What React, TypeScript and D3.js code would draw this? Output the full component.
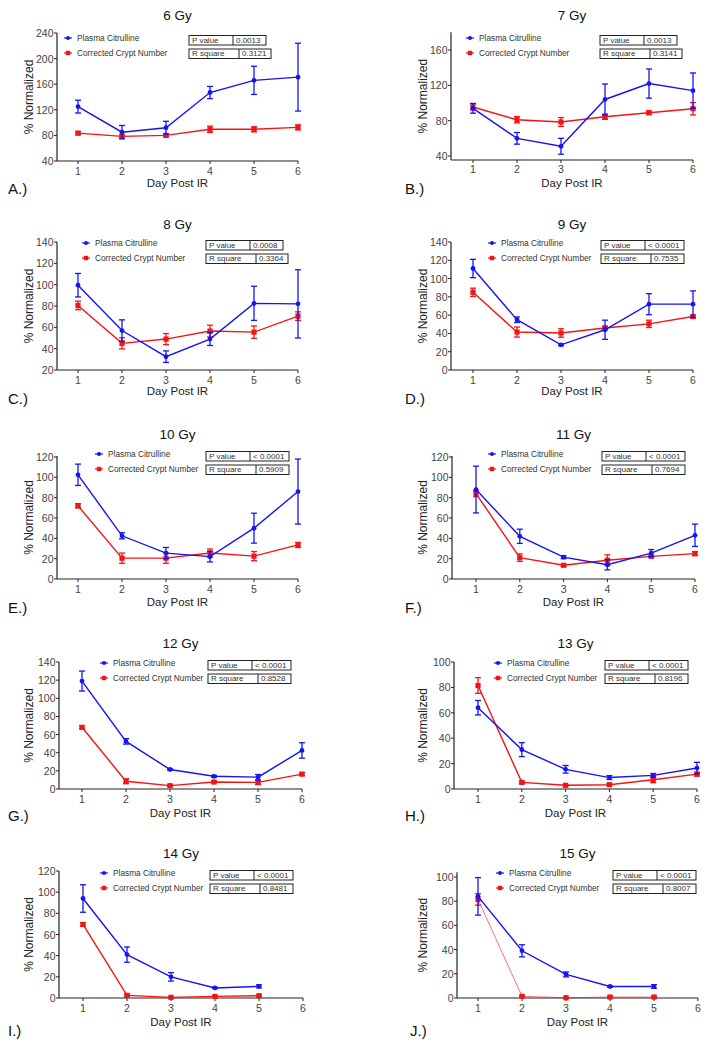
import React from 'react';
import * as d3 from 'd3';

// ---- data ----
const doses = ['6 Gy', '7 Gy', '8 Gy', '9 Gy', '10 Gy', '11 Gy', '12 Gy', '13 Gy', '14 Gy', '15 Gy'];
const panelLetters = ['A.)', 'B.)', 'C.)', 'D.)', 'E.)', 'F.)', 'G.)', 'H.)', 'I.)', 'J.)'];
const pValues = ['0.0013', '0.0013', '0.0008', '< 0.0001', '< 0.0001', '< 0.0001', '< 0.0001', '< 0.0001', '< 0.0001', '< 0.0001'];
const rSquares = ['0.3121', '0.3141', '0.3364', '0.7535', '0.5909', '0.7694', '0.8528', '0.8196', '0.8481', '0.8007'];
const dayTicks = [1, 2, 3, 4, 5, 6];

const yTicks = [
  [40, 80, 120, 160, 200, 240],
  [40, 80, 120, 160],
  [20, 40, 60, 80, 100, 120, 140],
  [0, 20, 40, 60, 80, 100, 120, 140],
  [0, 20, 40, 60, 80, 100, 120],
  [0, 20, 40, 60, 80, 100, 120],
  [0, 20, 40, 60, 80, 100, 120, 140],
  [0, 20, 40, 60, 80, 100],
  [0, 20, 40, 60, 80, 100, 120],
  [0, 20, 40, 60, 80, 100],
];

const citrullineMean = [
  [125, 85, 92, 147, 166, 171],
  [94, 60, 51, 104, 122, 114],
  [99.5, 57, 32.5, 49, 82.5, 82],
  [111, 55, 27.5, 44, 72, 72],
  [102.5, 42.5, 25.5, 22, 50, 86],
  [88, 42, 21.5, 14, 25.5, 43],
  [119, 52.5, 21.5, 14, 13, 42.5],
  [64, 31, 15.5, 9, 10.7, 16.5],
  [94, 41, 20, 9.5, 11],
  [84, 39, 19.5, 9.5, 9.5],
];
const citrullineSem = [
  [10, 10.5, 10, 9.5, 22, 53],
  [5.5, 6.6, 9, 17.5, 16.5, 20],
  [11, 10, 5.4, 6, 16, 32],
  [10, 3, 1, 10.5, 11.5, 14.5],
  [10.5, 3, 5.5, 5.2, 14.7, 32],
  [23, 7, 1.5, 5, 3.5, 11],
  [11, 3, 0.8, 1, 3, 8.5],
  [5.7, 5.5, 3, 1.5, 1.5, 4.5],
  [13, 7.2, 4, 0.6, 1.5],
  [15.5, 5, 2, 0.6, 1.5],
];
const cryptMean = [
  [83.5, 78.5, 80, 89.5, 89.5, 92.5],
  [95.5, 81, 78.5, 84.5, 89, 93.5],
  [80.5, 45, 49, 56.5, 55.5, 70.5],
  [85, 41.5, 40.5, 46, 50.5, 58.5],
  [72, 20.5, 20.5, 25.5, 22.5, 33.5],
  [84, 21, 13.5, 18.5, 22.3, 25],
  [68, 8.5, 3.7, 7.7, 7.3, 16.4],
  [81.5, 5.2, 2.9, 3.4, 7.3, 11.7],
  [69.5, 2.5, 0.6, 1.5, 2.2],
  [81.5, 1.4, 0.2, 0.8, 0.8],
];
const cryptSem = [
  [2.5, 2.5, 2.5, 5, 4, 4],
  [3.5, 3.5, 5, 3, 2, 7],
  [4, 5.2, 5.2, 5.5, 5.8, 4],
  [4.5, 5.5, 4.6, 2, 4, 1.5],
  [2, 5, 5, 4, 4.5, 2.5],
  [3, 3.7, 1, 5.3, 1, 2],
  [1.5, 2.7, 1, 1, 2.4, 1.5],
  [6.2, 1, 0.5, 0.8, 2.3, 1.5],
  [1.5, 1, 0.3, 0.5, 0.5],
  [4.8, 0.5, 0.2, 0.4, 0.4],
];

// ---- layout (pixels) ----
// axisX, x of day 1, x of day 6, px of top tick, px of bottom tick, axis top value, axis bottom value, legend x, legend y, box x
const layout = [
  [57, 78, 298, 33, 161, 240, 40, 68, 38, 189],
  [451, 473, 693, 50, 156, 180, 35.5, 470, 38, 600],
  [57, 78, 298, 242, 370, 140, 20, 86, 243, 206],
  [451, 473, 693, 242, 370, 140, 0, 492, 243, 601],
  [57, 78, 298, 457, 579, 121, 0, 99, 454, 206],
  [452, 476, 695, 457, 579, 121, 0, 492, 454, 602],
  [59, 82, 302, 662, 789, 140, 0, 104, 663, 208],
  [454, 478, 697, 662, 789, 100, 0, 498, 663, 605],
  [59, 83, 303, 871, 998, 120, 0, 104, 873, 210],
  [457, 478, 698, 877, 998, 104, 0, 500, 873, 613],
];
const rowTitleY = [15, 224, 434, 643, 853];
const rowXLabelY = [183, 391, 602, 813, 1022];
const rowLetterY = [188, 398, 607, 815, 1030];

const FONT = '"Liberation Sans", Arial, Helvetica, sans-serif';
const BLUE = '#1414f5';
const RED = '#f51414';

function Panel({ i }: { i: number }) {
  const [axisX, x1, x6, topPx, botPx, axTop, axBot, legX, legY, boxX] = layout[i];
  const ticks = yTicks[i];
  const row = Math.floor(i / 2);
  const col = i % 2;

  const x = d3.scaleLinear().domain([1, 6]).range([x1, x6]);
  const y = d3.scaleLinear().domain([ticks[0], ticks[ticks.length - 1]]).range([botPx, topPx]);
  const yAxTop = y(axTop);
  const yAxBot = y(axBot);
  const cx = (axisX + x6) / 2;

  const line = d3.line<number>().x((_, k) => x(k + 1)).y((d) => y(d));

  const wide = pValues[i].startsWith('<');
  const pW = wide ? 83 : 77;
  const rW = wide ? 83 : 82;
  const boxH = 9.5;
  const pY = legY - 2.5;
  const rY = legY + 11;

  const series = [
    { mean: cryptMean[i], sem: cryptSem[i], color: RED, sq: true },
    { mean: citrullineMean[i], sem: citrullineSem[i], color: BLUE, sq: false },
  ];

  return (
    <g>
      <text x={cx} y={rowTitleY[row]} textAnchor="middle" dominantBaseline="central" fontSize={13.5} fill="#111">
        {doses[i]}
      </text>

      {/* axes */}
      <line x1={axisX} x2={axisX} y1={yAxTop} y2={yAxBot} stroke="#222" strokeWidth={1.2} />
      <line x1={axisX} x2={x6} y1={yAxBot} y2={yAxBot} stroke="#222" strokeWidth={1.2} />
      {ticks.map((t) => (
        <g key={t}>
          <line x1={axisX - 3} x2={axisX} y1={y(t)} y2={y(t)} stroke="#222" strokeWidth={1} />
          <text x={axisX - 3.5} y={y(t)} textAnchor="end" dominantBaseline="central" fontSize={10.5} fill="#444">
            {t}
          </text>
        </g>
      ))}
      {dayTicks.map((d) => (
        <g key={d}>
          <line x1={x(d)} x2={x(d)} y1={yAxBot} y2={yAxBot + 3} stroke="#222" strokeWidth={1} />
          <text x={x(d)} y={yAxBot + 9.5} textAnchor="middle" dominantBaseline="central" fontSize={10.5} fill="#444">
            {d}
          </text>
        </g>
      ))}
      <text x={cx} y={rowXLabelY[row]} textAnchor="middle" dominantBaseline="central" fontSize={11.5} fill="#222">
        Day Post IR
      </text>
      <text
        transform={`translate(${col === 0 ? 29 : 423},${(yAxTop + yAxBot) / 2}) rotate(-90)`}
        textAnchor="middle"
        dominantBaseline="central"
        fontSize={12}
        fill="#222"
      >
        % Normalized
      </text>
      <text x={col === 0 ? 8 : i === 9 ? 410 : 405} y={rowLetterY[row]} dominantBaseline="central" fontSize={15} fill="#111">
        {panelLetters[i]}
      </text>

      {/* series */}
      {series.map((s, si) => (
        <g key={si}>
          <path
            d={line(s.mean) || ''}
            fill="none"
            stroke={s.color}
            strokeWidth={i === 9 && s.sq ? 1 : 1.4}
            strokeOpacity={i === 9 && s.sq ? 0.6 : 1}
          />
          {s.mean.map((m, k) => {
            const px = x(k + 1);
            const hi = y(m + s.sem[k]);
            const lo = y(m - s.sem[k]);
            return (
              <g key={k}>
                <line x1={px} x2={px} y1={hi} y2={lo} stroke={s.color} strokeWidth={1.3} />
                <line x1={px - 3} x2={px + 3} y1={hi} y2={hi} stroke={s.color} strokeWidth={1.3} />
                <line x1={px - 3} x2={px + 3} y1={lo} y2={lo} stroke={s.color} strokeWidth={1.3} />
                {s.sq ? (
                  <rect x={px - 2.6} y={y(m) - 2.6} width={5.2} height={5.2} fill={s.color} />
                ) : (
                  <circle cx={px} cy={y(m)} r={2.4} fill={s.color} />
                )}
              </g>
            );
          })}
        </g>
      ))}

      {/* legend */}
      <line x1={legX - 4} x2={legX + 4} y1={legY} y2={legY} stroke={BLUE} strokeWidth={1.2} />
      <circle cx={legX} cy={legY} r={2} fill={BLUE} />
      <text x={legX + 9} y={legY} dominantBaseline="central" fontSize={8.3} fill="#333">
        Plasma Citrulline
      </text>
      <line x1={legX - 4} x2={legX + 4} y1={legY + 15} y2={legY + 15} stroke={RED} strokeWidth={1.2} />
      <rect x={legX - 2.2} y={legY + 12.8} width={4.4} height={4.4} fill={RED} />
      <text x={legX + 9} y={legY + 15} dominantBaseline="central" fontSize={8.3} fill="#333">
        Corrected Crypt Number
      </text>

      {/* stats boxes */}
      <rect x={boxX} y={pY} width={pW} height={boxH} fill="#fff" stroke="#222" strokeWidth={1} />
      <line x1={boxX + 44} x2={boxX + 44} y1={pY} y2={pY + boxH} stroke="#222" strokeWidth={1} />
      <text x={boxX + 3} y={pY + boxH / 2} dominantBaseline="central" fontSize={8} fill="#333">
        P value
      </text>
      <text x={boxX + 47} y={pY + boxH / 2} dominantBaseline="central" fontSize={8} fill="#333">
        {pValues[i]}
      </text>
      <rect x={boxX} y={rY} width={rW} height={boxH} fill="#fff" stroke="#222" strokeWidth={1} />
      <line x1={boxX + 50} x2={boxX + 50} y1={rY} y2={rY + boxH} stroke="#222" strokeWidth={1} />
      <text x={boxX + 3} y={rY + boxH / 2} dominantBaseline="central" fontSize={8} fill="#333">
        R square
      </text>
      <text x={boxX + 53} y={rY + boxH / 2} dominantBaseline="central" fontSize={8} fill="#333">
        {rSquares[i]}
      </text>
    </g>
  );
}

export default function App() {
  return (
    <div style={{ position: 'absolute', left: 0, top: 0 }}>
      <svg width={710} height={1047} style={{ display: 'block', background: '#fff', fontFamily: FONT }}>
        {doses.map((_, i) => (
          <Panel key={i} i={i} />
        ))}
      </svg>
    </div>
  );
}
